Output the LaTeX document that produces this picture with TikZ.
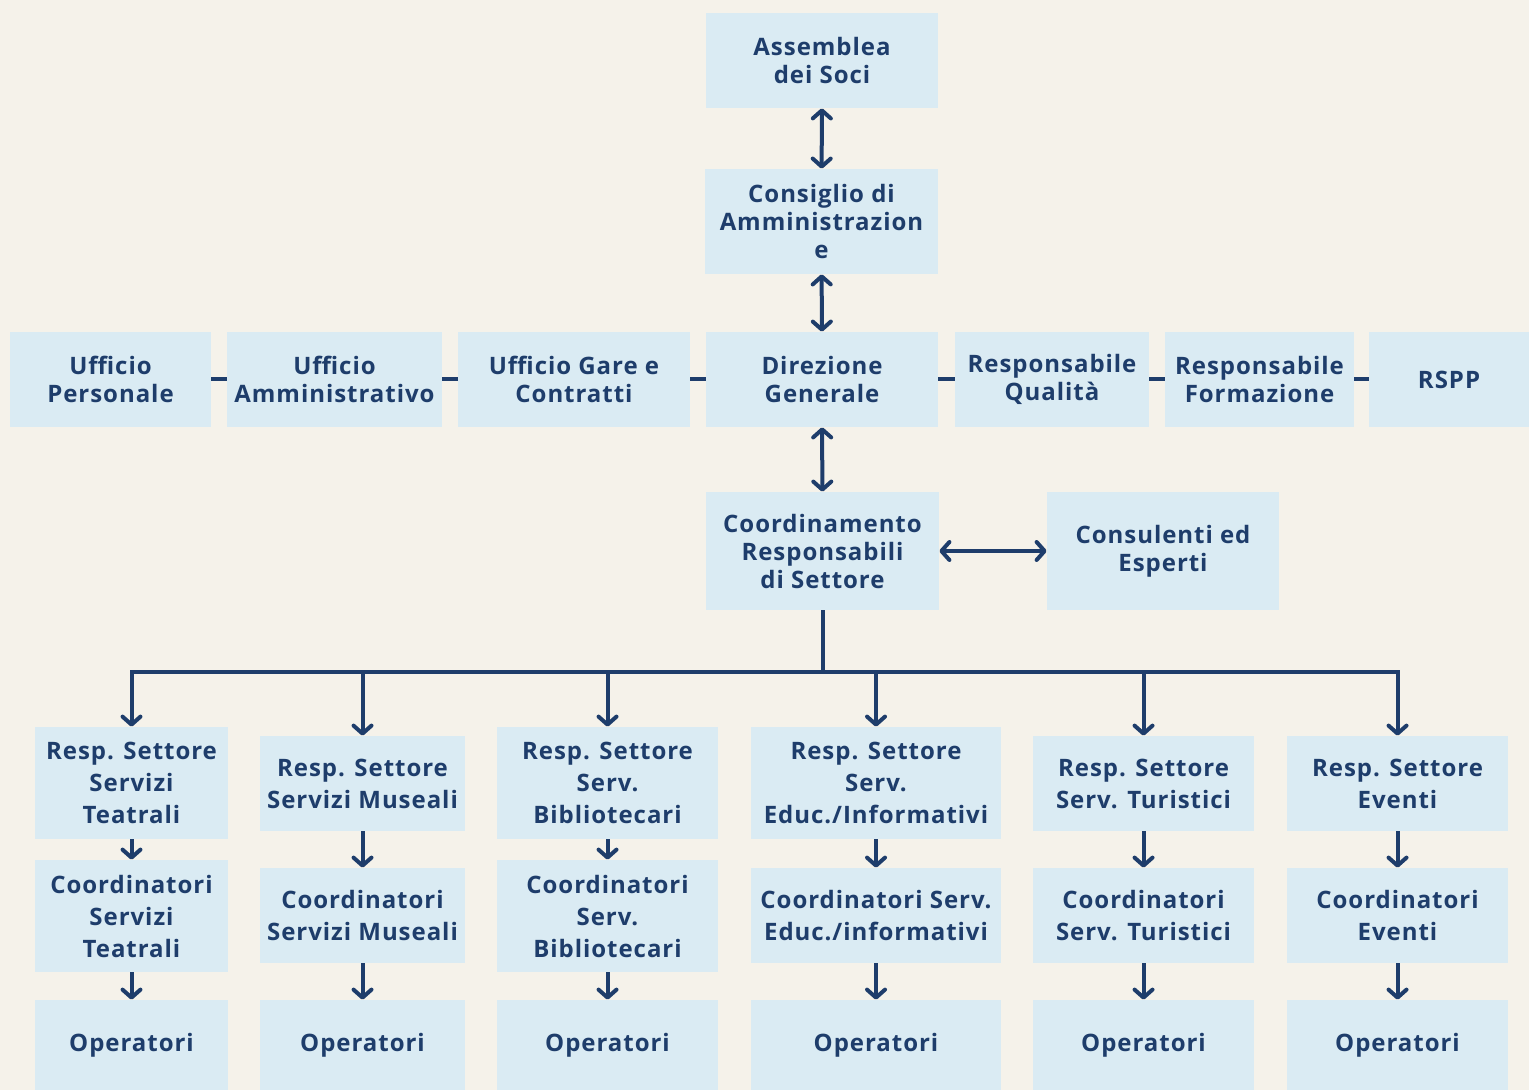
\documentclass[tikz,border=0pt]{standalone}
\usepackage{fontspec}
\setmainfont{Open Sans}[LetterSpace=4]
\usepackage{tikz}
\usetikzlibrary{arrows.meta, positioning}
\definecolor{orgBack}{HTML}{F5F2EA}
\definecolor{orgBox}{HTML}{DAEBF3}
\definecolor{orgNavy}{HTML}{1E3D6B}

\begin{document}
\begin{tikzpicture}[x=0.5pt, y=-0.5pt,
    unit/.style={fill=orgBox, inner sep=0pt, align=center, text=orgNavy, font=\bfseries\fontsize{12}{14}\selectfont, minimum height=47.5pt},
    sector/.style={unit, font=\bfseries\fontsize{12}{16}\selectfont},
    link/.style={orgNavy, line width=2pt},
    arrow/.style={link, -{Straight Barb[length=4pt, width=9pt, round]}},
    both/.style={link, {Straight Barb[length=4pt, width=9pt, round]}-{Straight Barb[length=4pt, width=9pt, round]}},
]
    \fill[orgBack] (0,0) rectangle (1529,1090);
    \useasboundingbox (0,0) rectangle (1529,1090);

    % top of the organisation
    \node[unit, minimum width=116pt] (assemblea) at (822, 60.5) {Assemblea\\dei Soci};
    \node[unit, minimum width=116.5pt, minimum height=52.5pt] (consiglio) at (821.5, 221.5) {Consiglio di\\Amministrazion\\e};

    % staff row
    \node[unit, minimum width=100.5pt] (personale) at (110.5, 379.5) {Ufficio\\Personale};
    \node[unit, minimum width=107.5pt] (amministrativo) at (334.5, 379.5) {Ufficio\\Amministrativo};
    \node[unit, minimum width=116pt] (gare) at (574, 379.5) {Ufficio Gare e\\Contratti};
    \node[unit, minimum width=116pt] (direzione) at (822, 379.5) {Direzione\\Generale};
    \node[unit, minimum width=97pt] (qualita) at (1052, 379.5) {Responsabile\\Qualità};
    \node[unit, minimum width=94.5pt] (formazione) at (1259.5, 379.5) {Responsabile\\Formazione};
    \node[unit, minimum width=80pt] (rspp) at (1449, 379.5) {RSPP};

    \node[unit, minimum width=116.5pt, minimum height=59pt] (coordinamento) at (822.5, 551) {Coordinamento\\Responsabili\\di Settore};
    \node[unit, minimum width=116pt, minimum height=59pt] (consulenti) at (1163, 551) {Consulenti ed\\Esperti};

    \draw[both] (assemblea) -- (consiglio);
    \draw[both] (consiglio) -- (direzione);
    \draw[both] (direzione) -- (coordinamento);
    \draw[both] (coordinamento) -- (consulenti);
    \draw[link] (personale) -- (amministrativo);
    \draw[link] (amministrativo) -- (gare);
    \draw[link] (gare) -- (direzione);
    \draw[link] (direzione) -- (qualita);
    \draw[link] (qualita) -- (formazione);
    \draw[link] (formazione) -- (rspp);

    % sectors
    \node[sector, minimum width=96.5pt, minimum height=56pt] (resp1) at (131.5, 783) {Resp. Settore\\Servizi\\Teatrali};
    \node[sector, minimum width=102.5pt] (resp2) at (362.5, 783.5) {Resp. Settore\\Servizi Museali};
    \node[sector, minimum width=110.5pt, minimum height=56pt] (resp3) at (607.5, 783) {Resp. Settore\\Serv.\\Bibliotecari};
    \node[sector, minimum width=125pt, minimum height=56pt] (resp4) at (876, 783) {Resp. Settore\\Serv.\\Educ./Informativi};
    \node[sector, minimum width=110.5pt] (resp5) at (1143.5, 783.5) {Resp. Settore\\Serv. Turistici};
    \node[sector, minimum width=110.5pt] (resp6) at (1397.5, 783.5) {Resp. Settore\\Eventi};

    \node[sector, minimum width=96.5pt, minimum height=56pt] (coord1) at (131.5, 916) {Coordinatori\\Servizi\\Teatrali};
    \node[sector, minimum width=102.5pt] (coord2) at (362.5, 915.5) {Coordinatori\\Servizi Museali};
    \node[sector, minimum width=110.5pt, minimum height=56pt] (coord3) at (607.5, 916) {Coordinatori\\Serv.\\Bibliotecari};
    \node[sector, minimum width=125pt] (coord4) at (876, 915.5) {Coordinatori Serv.\\Educ./informativi};
    \node[sector, minimum width=110.5pt] (coord5) at (1143.5, 915.5) {Coordinatori\\Serv. Turistici};
    \node[sector, minimum width=110.5pt] (coord6) at (1397.5, 915.5) {Coordinatori\\Eventi};

    \node[sector, minimum width=96.5pt, minimum height=45pt] (oper1) at (131.5, 1045) {Operatori};
    \node[sector, minimum width=102.5pt, minimum height=45pt] (oper2) at (362.5, 1045) {Operatori};
    \node[sector, minimum width=110.5pt, minimum height=45pt] (oper3) at (607.5, 1045) {Operatori};
    \node[sector, minimum width=125pt, minimum height=45pt] (oper4) at (876, 1045) {Operatori};
    \node[sector, minimum width=110.5pt, minimum height=45pt] (oper5) at (1143.5, 1045) {Operatori};
    \node[sector, minimum width=110.5pt, minimum height=45pt] (oper6) at (1397.5, 1045) {Operatori};

    \coordinate (bus) at (822.5, 672);
    \draw[link] (coordinamento) -- (bus);
    \draw[link, line cap=rect] (resp1.north |- bus) -- (resp6.north |- bus);
    \foreach \i in {1,...,6} {
        \draw[arrow] (resp\i.north |- bus) -- (resp\i.north);
        \draw[arrow] (resp\i) -- (coord\i);
        \draw[arrow] (coord\i) -- (oper\i);
    }
\end{tikzpicture}
\end{document}
